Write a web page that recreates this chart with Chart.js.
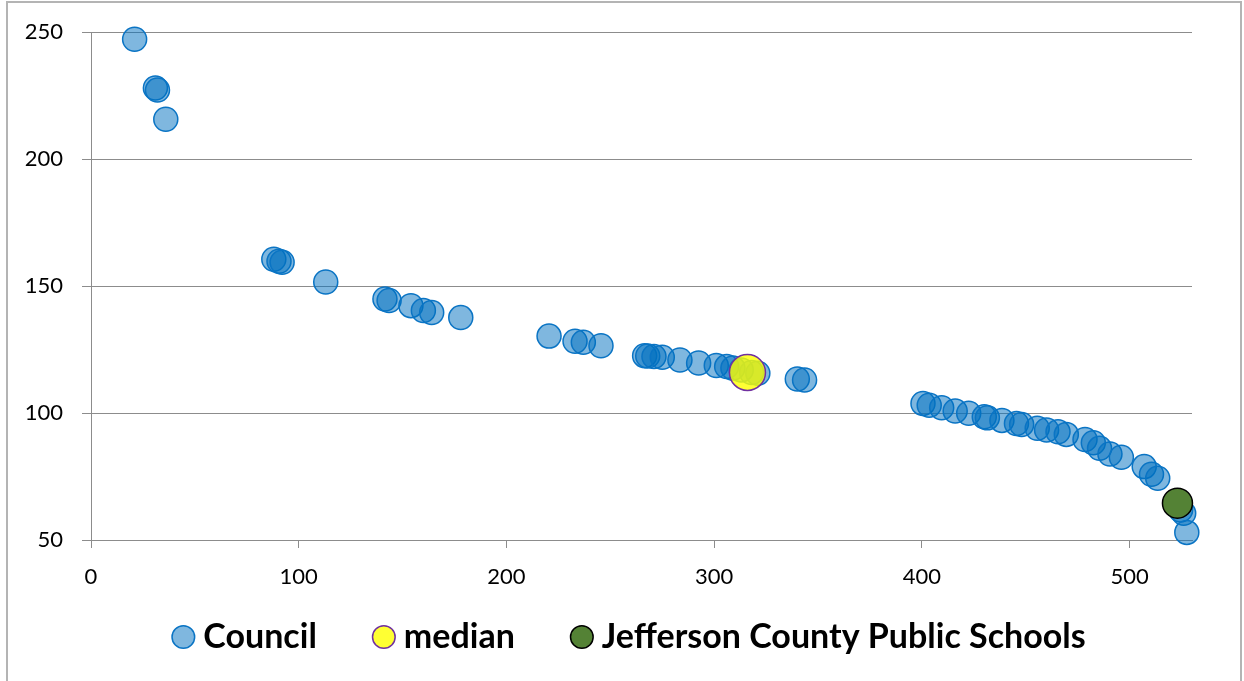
<!DOCTYPE html>
<html>
<head>
<meta charset="utf-8">
<script src="https://cdn.jsdelivr.net/npm/chart.js@4"></script>
<style>
  html, body { margin: 0; padding: 0; background: #fff; }
  #wrap { width: 1244px; height: 681px; position: relative; }
</style>
</head>
<body>
<div id="wrap"><canvas id="c" width="1244" height="681"></canvas></div>
<script>
// ---- Data ----
const seriesNames = ["Council", "median", "Jefferson County Public Schools"];
const councilX = [21, 31, 32, 36, 88, 90.5, 92, 113, 141.5, 143.5, 154, 160, 164, 178,
  220.5, 233, 237, 245.5, 266.5, 268, 271, 275, 283.5, 292.5, 301, 306, 309, 313, 318, 321,
  340, 343.5, 400.5, 403.5, 409.5, 416, 422.5, 430, 431.5, 438.5, 445.5, 448, 455.5, 460,
  465.5, 469.5, 478.5, 482.5, 485.5, 490.5, 496, 507, 510.5, 513.5, 524.5, 526, 527.5];
const councilY = [247.2, 228, 227.2, 215.7, 160.6, 159.8, 159.4, 151.6, 144.9, 144.3, 142.3, 140.4, 139.6, 137.6,
  130.3, 128.3, 127.9, 126.5, 122.6, 122.5, 122.3, 122, 120.9, 119.7, 118.7, 118.3, 117.7, 117, 116, 115.7,
  113.4, 113, 103.8, 103.1, 102.1, 100.8, 99.9, 98.5, 98.1, 97.1, 95.9, 95.5, 94, 93.3,
  92.6, 91.6, 89.6, 88.3, 86.1, 83.9, 82.6, 78.9, 75.9, 74.3, 61.8, 60.5, 53];
const medianX = [316];
const medianY = [116];
const jcpsX = [523];
const jcpsY = [64.5];
// axis ranges / tick steps
const xMin = 0, xMax = 530, xStep = 100;
const yMin = 50, yMax = 250, yStep = 50;

const toPoints = (xs, ys) => xs.map((x, i) => ({ x: x, y: ys[i] }));

const frame = {
  id: 'frame',
  beforeDraw(chart) {
    const ctx = chart.ctx;
    ctx.save();
    ctx.fillStyle = '#ffffff';
    ctx.fillRect(0, 0, chart.width, chart.height);
    ctx.strokeStyle = '#b4b4b4';
    ctx.lineWidth = 2;
    ctx.strokeRect(7, 2, 1234, 681);
    ctx.restore();
  }
};

new Chart(document.getElementById('c'), {
  type: 'scatter',
  data: {
    datasets: [
      {
        label: seriesNames[0],
        data: toPoints(councilX, councilY),
        backgroundColor: 'rgba(0,112,192,0.5)',
        borderColor: '#0a74c4',
        borderWidth: 1.5,
        pointRadius: 12,
        pointHoverRadius: 12,
        pointStyle: 'circle',
        clip: false,
        order: 3
      },
      {
        label: seriesNames[1],
        data: toPoints(medianX, medianY),
        backgroundColor: 'rgba(255,255,0,0.8)',
        borderColor: '#7030a0',
        borderWidth: 1.5,
        pointRadius: 18,
        pointHoverRadius: 18,
        pointStyle: 'circle',
        clip: false,
        order: 2
      },
      {
        label: seriesNames[2],
        data: toPoints(jcpsX, jcpsY),
        backgroundColor: '#548235',
        borderColor: '#000000',
        borderWidth: 1.5,
        pointRadius: 15,
        pointHoverRadius: 15,
        pointStyle: 'circle',
        clip: false,
        order: 1
      }
    ]
  },
  options: {
    responsive: false,
    animation: false,
    devicePixelRatio: 1,
    layout: { padding: { left: 22, right: 0, top: 32, bottom: 17 } },
    plugins: {
      tooltip: { enabled: false },
      legend: {
        position: 'bottom',
        align: 'center',
        labels: {
          usePointStyle: true,
          boxWidth: 6,
          boxHeight: 16,
          padding: 64,
          color: '#000',
          font: { family: 'Lato', weight: 'bold', size: 34 },
          sort: (a, b) => a.datasetIndex - b.datasetIndex
        }
      }
    },
    scales: {
      x: {
        type: 'linear',
        min: xMin,
        max: xMax,
        bounds: 'data',
        afterFit(scale) { scale.height = 16; },
        afterBuildTicks(scale) {
          scale.ticks = scale.ticks.filter(t => t.value % xStep === 0);
        },
        ticks: {
          stepSize: xStep,
          includeBounds: false,
          autoSkip: false,
          maxRotation: 0,
          mirror: true,
          padding: -50,
          color: '#000',
          font: { family: 'Lato', size: 22 },
          callback: (v) => String(v)
        },
        grid: {
          drawOnChartArea: false,
          drawTicks: true,
          tickLength: 8,
          color: '#8c8c8c',
          lineWidth: 1
        },
        border: { display: true, color: '#8c8c8c', width: 1 }
      },
      y: {
        type: 'linear',
        position: 'left',
        min: yMin,
        max: yMax,
        afterFit(scale) { scale.width = 69; },
        ticks: {
          stepSize: yStep,
          autoSkip: false,
          color: '#000',
          padding: 19,
          font: { family: 'Lato', size: 22 },
          callback: (v) => String(v)
        },
        grid: {
          drawOnChartArea: true,
          drawTicks: true,
          tickLength: 9,
          color: '#8c8c8c',
          lineWidth: 1
        },
        border: { display: true, color: '#8c8c8c', width: 1 }
      },
      yRightSpace: {
        type: 'linear',
        position: 'right',
        display: true,
        afterFit(scale) { scale.width = 52; },
        grid: { display: false, drawTicks: false },
        ticks: { display: false },
        border: { display: false }
      }
    }
  },
  plugins: [frame]
});
</script>
</body>
</html>
